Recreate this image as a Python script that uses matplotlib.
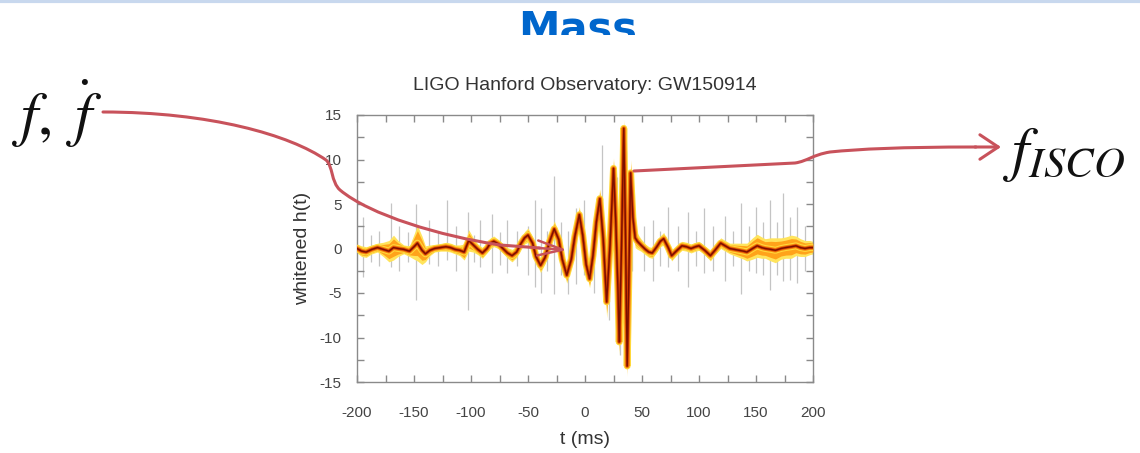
import numpy as np
import matplotlib
matplotlib.use('Agg')
import matplotlib.pyplot as plt
from matplotlib.path import Path
from matplotlib.patches import PathPatch
from matplotlib.transforms import Bbox
from matplotlib.ticker import MultipleLocator

plt.rcParams['font.family'] = ['Liberation Sans', 'DejaVu Sans']
plt.rcParams['mathtext.fontset'] = 'stix'
plt.rcParams['axes.unicode_minus'] = False

# --- data ---
# reconstructed waveform (median), time in ms
t_ms = [-200, -196, -192, -187, -182, -177, -172, -168, -164, -159,
        -154, -150, -147, -143, -140, -136, -132, -127, -122, -118,
        -114, -110, -106,
        -102, -98, -94, -90, -86, -83, -80, -76, -72, -68,
        -64, -60, -56, -53, -50,
        -46, -43, -39, -35, -31, -27, -23, -20, -16, -12,
        -9, -5, -2, 1, 4, 7, 10, 13, 16, 19,
        22, 25, 27, 29, 30, 32, 34, 35.5, 37, 38.5,
        40, 42, 44, 46, 49,
        53, 56, 59, 63, 66, 69, 73, 76, 80, 85,
        89, 93, 97, 100, 105, 110, 114, 119, 123, 127,
        131, 135, 139, 142, 147, 151, 155, 158, 163, 167,
        172, 176, 181, 185, 189, 193, 197, 200]
h_med = [0.0, -0.3, -0.4, -0.1, 0.1, -0.1, -0.3, 0.1, 0.0, -0.1,
         -0.3, 0.2, 0.6, -0.2, -0.6, -0.2, 0.0, 0.1, 0.2, 0.1,
         -0.1, -0.2, -0.4,
         0.9, 0.4, -0.1, -0.5, 0.0, 0.6, 0.8, 0.5, 0.0, -0.5,
         -0.8, -0.4, 0.6, 1.2, 1.5,
         0.6, -0.9, -1.9, -1.0, 0.8, 2.2, 1.0, -1.2, -3.0, -1.2,
         1.3, 3.8, 1.5, -1.8, -3.4, -0.8, 3.0, 5.6, 1.0, -6.0,
         0.5, 9.0, 3.0, -5.0, -10.5, 0.0, 13.5, 2.0, -13.2, -3.0,
         8.5, 3.5, 1.2, 0.8, 0.4,
         -0.1, -0.4, -0.5, 0.2, 0.8, 1.1, 0.1, -0.8, -0.3, 0.3,
         0.2, 0.0, 0.2, 0.3, -0.2, -0.8, -0.2, 0.6, 0.3, 0.0,
         -0.1, -0.2, -0.3, -0.4, 0.0, 0.3, 0.1, 0.0, -0.1, -0.2,
         0.0, 0.1, 0.2, 0.3, 0.1, 0.0, 0.1, 0.1]
# half width of the coloured band around it
h_spread = [0.5, 0.6, 0.6, 0.5, 0.5, 0.8, 1.2, 1.4, 0.9, 0.5,
            0.6, 1.4, 2.0, 1.6, 0.9, 0.6, 0.4, 0.4, 0.5, 0.5,
            0.5, 0.6, 0.9,
            1.2, 0.8, 0.6, 0.6, 0.5, 0.6, 0.6, 0.5, 0.5, 0.6,
            0.7, 0.6, 0.6, 0.7, 0.8,
            0.7, 0.7, 0.8, 0.7, 0.7, 0.9, 0.8, 0.8, 0.9, 0.8,
            0.8, 0.9, 0.9, 0.9, 1.0, 1.0, 1.0, 1.1, 1.2, 1.8,
            1.4, 1.2, 1.4, 1.6, 1.5, 1.6, 1.0, 1.6, 1.2, 1.6,
            1.5, 1.3, 1.1, 0.9, 0.7,
            0.6, 0.6, 0.6, 0.6, 0.6, 0.7, 0.6, 0.6, 0.5, 0.5,
            0.5, 0.5, 0.5, 0.5, 0.5, 0.6, 0.5, 0.6, 0.6, 0.6,
            0.7, 0.8, 0.9, 1.0, 1.2, 1.3, 1.2, 1.1, 1.3, 1.4,
            1.2, 1.2, 1.3, 1.1, 1.0, 0.9, 0.8, 0.7]

# raw whitened data (grey spikes)
spike_t = [-195, -188, -181, -170, -163, -155, -148, -137, -129, -121,
           -113, -103, -97, -92, -82, -75, -68, -60, -50, -44,
           -39, -33, -27, -21, -15, -8, -1, 8, 15, 21,
           28, 31, 36, 41, 52, 60, 66, 73, 82, 90,
           97, 104, 112, 123, 130, 137, 144, 150, 156, 162,
           168, 174, 180, 186, 193]
spike_hi = [3.5, 1.5, 2.0, 5.1, 2.5, 1.8, 5.0, 3.2, 2.0, 5.4,
            2.5, 4.1, 1.5, 3.2, 3.9, 1.8, 3.2, 2.0, 2.5, 5.4,
            4.5, 2.0, 8.2, 3.0, 2.0, 4.5, 5.5, 3.0, 11.6, 4.0,
            8.0, 6.0, 11.0, 4.5, 2.5, 3.2, 2.0, 4.7, 2.5, 4.1,
            2.0, 4.5, 2.5, 3.6, 2.0, 5.1, 2.5, 4.7, 3.0, 5.4,
            3.0, 6.2, 3.5, 4.7, 2.5]
spike_lo = [-3.2, -1.5, -2.0, -2.1, -2.5, -1.5, -5.8, -1.7, -2.0, -1.3,
            -2.5, -6.9, -1.5, -2.1, -2.8, -1.8, -2.8, -2.0, -3.0, -4.3,
            -5.0, -2.5, -5.1, -3.0, -5.1, -4.0, -3.0, -5.0, -2.0, -8.0,
            -9.0, -12.0, -7.0, -2.5, -2.5, -3.6, -2.0, -2.1, -2.5, -4.3,
            -2.0, -2.8, -2.5, -3.6, -2.0, -5.1, -2.5, -2.8, -3.0, -4.7,
            -3.0, -3.6, -3.5, -3.9, -2.5]

title = 'LIGO Hanford Observatory: GW150914'
slide_title = 'Mass'

t = np.array(t_ms)
h = np.array(h_med)
s = np.array(h_spread)

W, H = 1140, 453
fig = plt.figure(figsize=(W / 100, H / 100), dpi=100)

# plot box (pixels: left 357, right 813, top 115, bottom 382)
ax = fig.add_axes([357 / W, (H - 382) / H, 456 / W, 267 / H])
ax.vlines(spike_t, spike_lo, spike_hi, color='#c4c4c4', lw=0.9, zorder=1)
ax.fill_between(t, h - s, h + s, color='#ffe45c', lw=0, zorder=2)
ax.fill_between(t, h - 0.7 * s, h + 0.7 * s, color='#ffa31a', lw=0, zorder=3)
ax.plot(t, h, color='#ffd83a', lw=5.0, zorder=3, solid_joinstyle='round')
ax.plot(t, h, color='#f58a10', lw=3.4, zorder=4, solid_joinstyle='round')
ax.plot(t, h, color='#d23a00', lw=2.0, zorder=5, solid_joinstyle='round')
ax.plot(t, h, color='#7a1000', lw=1.0, zorder=6, solid_joinstyle='round')

ax.set_xlim(-200, 200)
ax.set_ylim(-15, 15)
ax.xaxis.set_major_locator(MultipleLocator(50))
ax.xaxis.set_minor_locator(MultipleLocator(25))
ax.yaxis.set_major_locator(MultipleLocator(5))
ax.yaxis.set_minor_locator(MultipleLocator(2.5))
ax.tick_params(which='both', direction='in', top=True, right=True,
               length=5, width=1, color='#8a8a8a')
ax.tick_params(axis='x', labelsize=11, labelcolor='#444444', pad=17)
ax.tick_params(axis='y', labelsize=11, labelcolor='#444444', pad=11)
for sp in ax.spines.values():
    sp.set_color('#8a8a8a')
    sp.set_linewidth(1)
ax.set_xlabel('t (ms)', fontsize=14, color='#333333', labelpad=8)
ax.set_ylabel('whitened h(t)', fontsize=14, color='#333333', labelpad=6)
ax.text(0.5, 1 + 30 / 267, title, transform=ax.transAxes, ha='center',
        va='center', fontsize=14, color='#333333')

# slide overlay in pixel coordinates (y down)
ov = fig.add_axes([0, 0, 1, 1])
ov.set_xlim(0, W)
ov.set_ylim(H, 0)
ov.axis('off')

ov.axhline(1, color='#c8d8ee', lw=3)

mass = ov.text(578, 41, slide_title, ha='center', va='baseline',
               fontsize=30, fontweight='bold', color='#0066cc',
               family=['DejaVu Sans'])
mass.set_clip_box(Bbox([[0, H - 35], [W, H]]))
mass.set_clip_on(True)

red = '#c8525b'
left = Path([(103, 112), (210, 112), (290, 135), (326, 160),
             (333, 166), (331, 182), (340, 190),
             (370, 215), (440, 236), (500, 245),
             (540, 248)],
            [Path.MOVETO, Path.CURVE4, Path.CURVE4, Path.CURVE4,
             Path.CURVE4, Path.CURVE4, Path.CURVE4,
             Path.CURVE4, Path.CURVE4, Path.CURVE4,
             Path.LINETO])
ov.add_patch(PathPatch(left, fc='none', ec=red, lw=2.2, capstyle='round'))
ov.annotate('', xy=(567, 250), xytext=(538, 248),
            arrowprops=dict(arrowstyle='->,head_length=1.0,head_width=0.3',
                            color=red, lw=1.8, mutation_scale=18,
                            shrinkA=0, shrinkB=0))

right = Path([(634, 171), (795, 163), (808, 161), (812, 155), (830, 152),
              (860, 149), (900, 147), (976, 147)],
             [Path.MOVETO, Path.LINETO, Path.CURVE4, Path.CURVE4, Path.CURVE4,
              Path.CURVE4, Path.CURVE4, Path.CURVE4])
ov.add_patch(PathPatch(right, fc='none', ec=red, lw=2.2, capstyle='round'))
ov.annotate('', xy=(1001, 147), xytext=(975, 147),
            arrowprops=dict(arrowstyle='->,head_length=0.6,head_width=0.4',
                            color=red, lw=2.2, mutation_scale=22,
                            shrinkA=0, shrinkB=0))

ov.text(12, 135, r'$f,\;\dot{f}$', fontsize=44, va='baseline', ha='left',
        color='#111111')
ov.text(1003, 169, r'$f_{ISCO}$', fontsize=44, va='baseline', ha='left',
        color='#111111')

fig.savefig('out.png', dpi=100)
